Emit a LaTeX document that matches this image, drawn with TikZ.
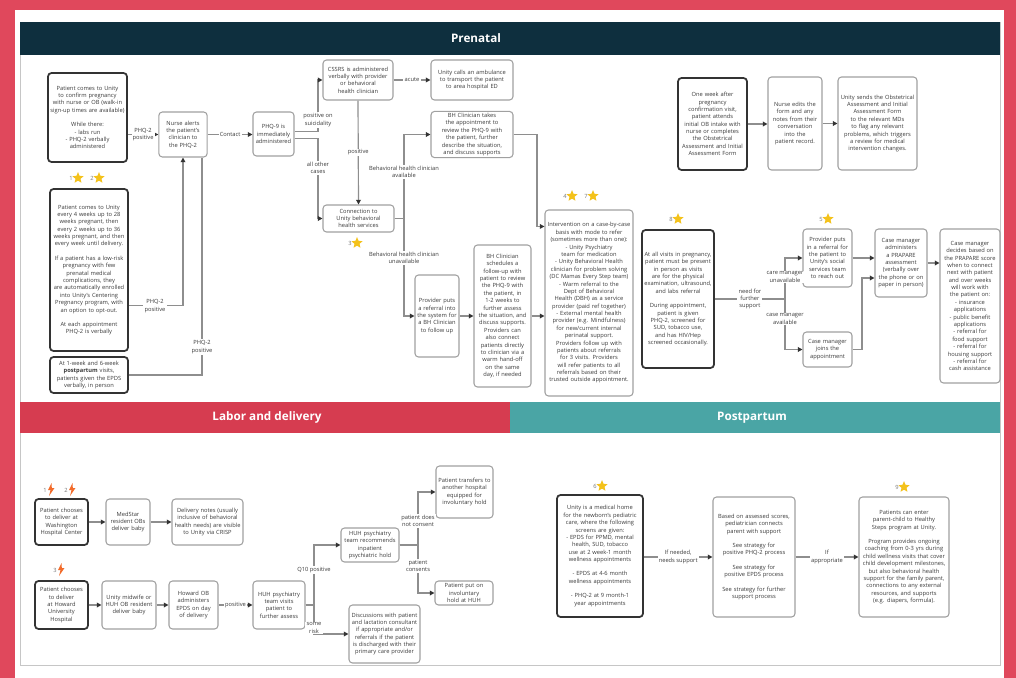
\documentclass[tikz,border=0pt]{standalone}
\usepackage{fontspec}
\setmainfont{Open Sans}
\usetikzlibrary{arrows.meta,shapes.geometric,positioning}

\definecolor{framered}{HTML}{E0485C}
\definecolor{prenatalbar}{HTML}{0E2F3E}
\definecolor{laborbar}{HTML}{D63C50}
\definecolor{postbar}{HTML}{4AA5A5}
\definecolor{boxgray}{HTML}{A0A0A0}
\definecolor{boxdark}{HTML}{333333}
\definecolor{linegray}{HTML}{8E8E8E}
\definecolor{textgray}{HTML}{3A3A3A}
\definecolor{staryellow}{HTML}{F4C21B}
\definecolor{boltorange}{HTML}{F26B2A}

\hyphenpenalty=10000
\exhyphenpenalty=10000
\newcommand{\smallfont}{\fontsize{4.9}{6.3}\selectfont}
\newcommand{\bolt}[1]{\fill[boltorange] #1 ++(0.5,-6) -- ++(-3.5,7) -- ++(2.5,0) -- ++(-1.5,6) -- ++(5.5,-8) -- ++(-2.7,0) -- cycle;}

\begin{document}
\begin{tikzpicture}[x=0.03cm, y=-0.03cm,
    box/.style={draw=boxgray, line width=0.9pt, rounded corners=3pt, fill=white, align=center, text=textgray, font=\smallfont, inner sep=1.5pt},
    keybox/.style={box, draw=boxdark, line width=1.5pt},
    flow/.style={draw=linegray, line width=1pt, -{Triangle[length=4pt,width=4pt,color=boxdark]}},
    bareline/.style={draw=linegray, line width=1pt},
    edgelabel/.style={fill=white, inner sep=1pt, align=center, text=textgray, font=\smallfont},
    banner/.style={text=white, font=\fontsize{10}{12}\selectfont\bfseries},
    badge/.style={star, star points=5, star point ratio=2.2, fill=staryellow, inner sep=0pt, minimum size=10pt},
    badgenum/.style={text=textgray!70, font=\smallfont, inner sep=0pt}]
                        \useasboundingbox (0,0) rectangle (1016,678);

                        % Frame and sections
                        \fill[framered] (0,0) rectangle (1016,678);
                        \fill[white] (15,10) rectangle (1004,678);
                        \draw[boxgray!60, line width=0.6pt] (20,22) rectangle (1000,665);
                        \fill[prenatalbar] (20,22) rectangle (1000,55);
                        \node[banner] (prenatalhead) at (476,38.5) {Prenatal};
                        \fill[laborbar] (20,402) rectangle (510,433);
                        \node[banner] (laborhead) at (267,417.5) {Labor and delivery};
                        \fill[postbar] (510,402) rectangle (1000,433);
                        \node[banner] (posthead) at (752,417.5) {Postpartum};

                        % Marking prenatal boxes
                        \node[keybox, minimum width=2.37cm, minimum height=2.67cm, text width=2.25cm] (intake) at (87.5,117.5)
                            {Patient comes to Unity to confirm pregnancy with nurse or OB (walk-in sign-up times are available)\\[6pt] While there:\\ - labs run\\ - PHQ-2 verbally administered};
                        \node[box, minimum width=1.45cm, minimum height=1.35cm, text width=1.33cm] (nurse) at (183,134.5)
                            {Nurse alerts the patient's clinician to the PHQ-2};
                        \node[box, minimum width=1.23cm, minimum height=1.32cm, text width=1.11cm] (phqnine) at (273.5,134)
                            {PHQ-9 is immediately administered};
                        \node[box, minimum width=2.1cm, minimum height=1.2cm, text width=1.98cm] (cssrs) at (358,80)
                            {CSSRS is administered verbally with provider or behavioral health clinician};
                        \node[box, minimum width=2.46cm, minimum height=1.2cm, text width=2.3cm] (ambulance) at (472,80)
                            {Unity calls an ambulance to transport the patient to area hospital ED};
                        \node[box, minimum width=2.46cm, minimum height=1.35cm, text width=2.3cm] (bhreview) at (472,134.5)
                            {BH Clinician takes the appointment to review the PHQ-9 with the patient, further describe the situation, and discuss supports};
                        \node[box, minimum width=2.13cm, minimum height=0.81cm, text width=2cm] (connect) at (358.5,218.5)
                            {Connection to Unity behavioral health services};
                        \node[box, minimum width=1.32cm, minimum height=2.46cm, text width=1.2cm] (referral) at (437,316)
                            {Provider puts a referral into the system for a BH Clinician to follow up};
                        \node[box, minimum width=1.71cm, minimum height=4.26cm, text width=1.59cm] (followup) at (502.5,316)
                            {BH Clinician schedules a follow-up with patient to review the PHQ-9 with the patient, in 1-2 weeks to further assess the situation, and discuss supports. Providers can also connect patients directly to clinician via a warm hand-off on the same day, if needed};
                        \node[box, minimum width=2.64cm, minimum height=5.58cm, text width=2.52cm] (intervene) at (589,303)
                            {Intervention on a case-by-case basis with mode to refer (sometimes more than one):\\ - Unity Psychiatry team for medication\\ - Unity Behavioral Health clinician for problem solving (DC Mamas Every Step team)\\ - Warm referral to the Dept of Behavioral Health (DBH) as a service provider (paid ref together)\\ - External mental health provider (e.g. Mindfulness) for new/current internal perinatal support.\\ Providers follow up with patients about referrals for 3 visits. Providers will refer patients to all referrals based on their trusted outside appointment.};
                        \node[keybox, minimum width=2.16cm, minimum height=4.14cm, text width=2.02cm] (visits) at (678,299)
                            {At all visits in pregnancy, patient must be present in person as visits are for the physical examination, ultrasound, and labs referral\\[6pt] During appointment, patient is given PHQ-2, screened for SUD, tobacco use, and has HIV/Hep screened occasionally.};
                        \node[box, minimum width=1.47cm, minimum height=1.74cm, text width=1.35cm] (refer) at (827.5,258)
                            {Provider puts in a referral for the patient to Unity's social services team to reach out};
                        \node[box, minimum width=1.47cm, minimum height=1.05cm, text width=1.35cm] (cmjoin) at (827.5,349.5)
                            {Case manager joins the appointment};
                        \node[box, minimum width=1.56cm, minimum height=2.04cm, text width=1.44cm] (prapare) at (901,263)
                            {Case manager administers a PRAPARE assessment (verbally over the phone or on paper in person)};
                        \node[box, minimum width=1.8cm, minimum height=4.62cm, text width=1.68cm] (decide) at (970,306)
                            {Case manager decides based on the PRAPARE score when to connect next with patient and over weeks will work with the patient on:\\ - insurance applications\\ - public benefit applications\\ - referral for food support\\ - referral for housing support\\ - referral for cash assistance};
                        \node[keybox, minimum width=2.07cm, minimum height=2.76cm, text width=1.93cm] (obintake) at (712.5,124)
                            {One week after pregnancy confirmation visit, patient attends initial OB intake with nurse or completes the Obstetrical Assessment and Initial Assessment Form};
                        \node[box, minimum width=1.62cm, minimum height=2.79cm, text width=1.5cm] (notes) at (795,123.5)
                            {Nurse edits the form and any notes from their conversation into the patient record.};
                        \node[box, minimum width=2.37cm, minimum height=2.79cm, text width=2.25cm] (flag) at (877.5,123.5)
                            {Unity sends the Obstetrical Assessment and Initial Assessment Form to the relevant MDs to flag any relevant problems, which triggers a review for medical intervention changes.};
                        \node[keybox, minimum width=2.34cm, minimum height=4.86cm, text width=2.2cm] (checkups) at (89,270)
                            {Patient comes to Unity every 4 weeks up to 28 weeks pregnant, then every 2 weeks up to 36 weeks pregnant, and then every week until delivery.\\[6pt] If a patient has a low-risk pregnancy with few prenatal medical complications, they are automatically enrolled into Unity's Centering Pregnancy program, with an option to opt-out.\\[6pt] At each appointment PHQ-2 is verbally};
                        \node[keybox, minimum width=2.34cm, minimum height=1.08cm, text width=2.2cm] (postvisit) at (89,375)
                            {At 1-week and 6-week \textbf{postpartum} visits, patients given the EPDS verbally, in person};

                        % Drawing prenatal connectors
                        \draw[flow] (intake.east |- nurse.west) -- node[edgelabel] {PHQ-2\\positive} (nurse.west);
                        \draw[flow] (nurse.east) -- node[edgelabel] {Contact} (nurse.east -| phqnine.west);
                        \draw[flow] ([yshift=2pt]phqnine.east) -| (318,110) |- (cssrs.west);
                        \draw[flow] ([yshift=-4pt]phqnine.east) -| (318,190) |- (connect.west);
                        \node[edgelabel] (suicidal) at (318,120) {positive on\\suicidality};
                        \node[edgelabel] (othercases) at (318,168) {all other\\cases};
                        \draw[flow] (cssrs.east) -- node[edgelabel] {acute} (cssrs.east -| ambulance.west);
                        \draw[flow] (cssrs.south) -- node[edgelabel] {positive} (connect.north);
                        \draw[flow] (connect.east) -| (404,160) |- (bhreview.west);
                        \draw[flow] (connect.east) -| (404,300) |- (referral.west);
                        \node[edgelabel] (clinyes) at (404,172) {Behavioral health clinician\\available};
                        \node[edgelabel] (clinno) at (404,258) {Behavioral health clinician\\unavailable};
                        \draw[flow] (referral.east) -- (referral.east -| followup.west);
                        \draw[flow] (followup.east) -- (followup.east -| intervene.west);
                        \draw[flow] (bhreview.east) -| (537,200) |- ([yshift=-14.5pt]intervene.north west);
                        \coordinate (split) at (785,299);
                        \draw[bareline] (visits.east) -- node[edgelabel] {need for\\further\\support} (split);
                        \draw[flow] (split) |- (refer.west);
                        \draw[flow] (split) |- (cmjoin.west);
                        \node[edgelabel] (cmno) at (785,277) {care manager\\unavailable};
                        \node[edgelabel] (cmyes) at (785,319) {case manager\\available};
                        \draw[flow] (refer.east) -- (refer.east -| prapare.west);
                        \draw[flow] (cmjoin.east) -| (862,300) |- ([yshift=-12.8pt]prapare.west);
                        \draw[flow] (prapare.east) -- (prapare.east -| decide.west);
                        \draw[flow] (obintake.east) -- (obintake.east -| notes.west);
                        \draw[flow] (notes.east) -- (notes.east -| flag.west);
                        \draw[flow] ([yshift=-30.6pt]checkups.east) -| (nurse.south);
                        \node[edgelabel] (phqpos) at (155,306) {PHQ-2\\positive};
                        \draw[bareline] (postvisit.east) -| ([xshift=16.2pt]nurse.south);
                        \node[edgelabel] (phqposb) at (202,347) {PHQ-2\\positive};

                        % Marking prenatal stars
                        \node[badge] (stara) at (78,178) {};
                        \node[badgenum, left=1pt of stara] {1};
                        \node[badge] (starb) at (99,178) {};
                        \node[badgenum, left=1pt of starb] {2};
                        \node[badge] (starc) at (357,243) {};
                        \node[badgenum, left=1pt of starc] {3};
                        \node[badge] (stard) at (572,196) {};
                        \node[badgenum, left=1pt of stard] {4};
                        \node[badge] (stare) at (593,196) {};
                        \node[badgenum, left=1pt of stare] {7};
                        \node[badge] (starg) at (678,219) {};
                        \node[badgenum, left=1pt of starg] {8};
                        \node[badge] (starf) at (828,219) {};
                        \node[badgenum, left=1pt of starf] {5};

                        % Marking labor and delivery boxes
                        \node[keybox, minimum width=1.59cm, minimum height=1.38cm, text width=1.45cm] (whc) at (61.5,522)
                            {Patient chooses to deliver at Washington Hospital Center};
                        \node[box, minimum width=1.32cm, minimum height=1.38cm, text width=1.2cm] (medstar) at (128,522)
                            {MedStar resident OBs deliver baby};
                        \node[box, minimum width=2.13cm, minimum height=1.38cm, text width=2.01cm] (crisp) at (207.5,522)
                            {Delivery notes (usually inclusive of behavioral health needs) are visible to Unity via CRISP};
                        \node[keybox, minimum width=1.59cm, minimum height=1.44cm, text width=1.45cm] (huh) at (61.5,605)
                            {Patient chooses to deliver at Howard University Hospital};
                        \node[box, minimum width=1.62cm, minimum height=1.44cm, text width=1.5cm] (midwife) at (129,605)
                            {Unity midwife or HUH OB resident deliver baby};
                        \node[box, minimum width=1.47cm, minimum height=1.44cm, text width=1.35cm] (epds) at (193.5,605)
                            {Howard OB administers EPDS on day of delivery};
                        \node[box, minimum width=1.56cm, minimum height=1.44cm, text width=1.44cm] (psych) at (279,605)
                            {HUH psychiatry team visits patient to further assess};
                        \node[box, minimum width=1.74cm, minimum height=1.02cm, text width=1.62cm] (hold) at (370,545)
                            {HUH psychiatry team recommends inpatient psychiatric hold};
                        \node[box, minimum width=2.13cm, minimum height=1.74cm, text width=2.01cm] (discuss) at (384.5,634)
                            {Discussions with patient and lactation consultant if appropriate and/or referrals if the patient is discharged with their primary care provider};
                        \node[box, minimum width=1.71cm, minimum height=1.56cm, text width=1.59cm] (transfer) at (464.5,492)
                            {Patient transfers to another hospital equipped for involuntary hold};
                        \node[box, minimum width=1.74cm, minimum height=0.72cm, text width=1.62cm] (huhhold) at (464,593)
                            {Patient put on involuntary hold at HUH};

                        % Drawing labor and delivery connectors
                        \draw[flow] (whc.east) -- (medstar.west);
                        \draw[flow] (medstar.east) -- (crisp.west);
                        \draw[flow] (huh.east) -- (midwife.west);
                        \draw[flow] (midwife.east) -- (epds.west);
                        \draw[flow] (epds.east) -- node[edgelabel] {positive} (psych.west);
                        \draw[flow] (psych.east) -| (314,560) |- (hold.west);
                        \draw[flow] (psych.east) -| (314,620) |- (discuss.west);
                        \node[edgelabel] (qpos) at (314,570) {Q10 positive};
                        \node[edgelabel] (somerisk) at (314,628) {some\\risk};
                        \draw[flow] (hold.east) -| (418,520) |- (transfer.west);
                        \draw[flow] (hold.east) -| (418,570) |- (huhhold.west);
                        \node[edgelabel] (noconsent) at (418,521) {patient does\\not consent};
                        \node[edgelabel] (consent) at (418,566) {patient\\consents};

                        % Marking labor and delivery bolts
                        \bolt{(51,489)}
                        \node[badgenum] (bolta) at (45,490) {1};
                        \bolt{(72,489)}
                        \node[badgenum] (boltb) at (66,490) {2};
                        \bolt{(61,569)}
                        \node[badgenum] (boltc) at (55,570) {3};

                        % Marking postpartum boxes
                        \node[keybox, minimum width=2.58cm, minimum height=3.66cm, text width=2.44cm] (pediatric) at (600,556)
                            {Unity is a medical home for the newborn's pediatric care, where the following screens are given:\\ - EPDS for PPMD, mental health, SUD, tobacco use at 2 week-1 month wellness appointments\\[6pt] - EPDS at 4-6 month wellness appointments\\[6pt] - PHQ-2 at 9 month-1 year appointments};
                        \node[box, minimum width=2.46cm, minimum height=3.6cm, text width=2.34cm] (scores) at (754,557)
                            {Based on assessed scores, pediatrician connects parent with support\\[6pt] See strategy for positive PHQ-2 process\\[6pt] See strategy for positive EPDS process\\[6pt] See strategy for further support process};
                        \node[box, minimum width=2.7cm, minimum height=3.6cm, text width=2.58cm] (healthysteps) at (904,557)
                            {Patients can enter parent-child to Healthy Steps program at Unity.\\[6pt] Program provides ongoing coaching from 0-3 yrs during child wellness visits that cover child development milestones, but also behavioral health support for the family parent, connections to any external resources, and supports (e.g. diapers, formula).};

                        % Drawing postpartum connectors
                        \draw[flow] (pediatric.east |- scores.west) -- node[edgelabel] {If needed,\\needs support} (scores.west);
                        \draw[flow] (scores.east) -- node[edgelabel] {If\\appropriate} (healthysteps.west);

                        % Marking postpartum stars
                        \node[badge] (starh) at (602,486) {};
                        \node[badgenum, left=1pt of starh] {6};
                        \node[badge] (stari) at (904,487) {};
                        \node[badgenum, left=1pt of stari] {9};
                    \end{tikzpicture}
\end{document}
